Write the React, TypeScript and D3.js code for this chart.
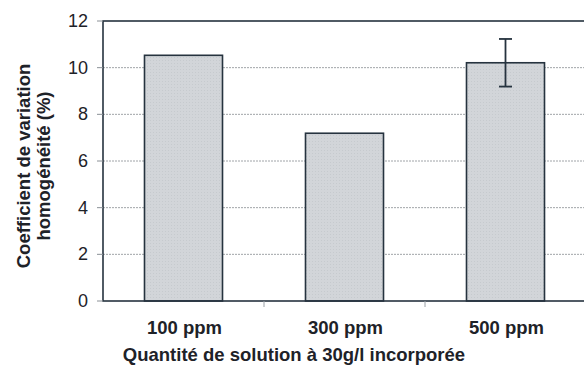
import React from "react";
import * as d3 from "d3";

const categories = ["100 ppm", "300 ppm", "500 ppm"];
const values = [10.53, 7.19, 10.21];
const errors = [0, 0, 1.02];
const yTicks = [0, 2, 4, 6, 8, 10, 12];
const yTitle = ["Coefficient de variation", "homogénéité (%)"];
const xTitle = "Quantité de solution à 30g/l incorporée";

const W = 584;
const H = 372;
const left = 103;
const top = 21;
const bottom = 301;
const right = 586;

export default function App() {
  const x = d3
    .scaleBand<string>()
    .domain(categories)
    .range([left, right])
    .paddingInner(0.5155)
    .paddingOuter(0.5155 / 2);
  const y = d3.scaleLinear().domain([0, 12]).range([bottom, top]);
  const step = x.step();
  const textColor = "#1e2228";
  const lineColor = "#26333f";
  const font = "'Liberation Sans', Arial, sans-serif";

  return (
    <svg
      width={W}
      height={H}
      style={{ position: "fixed", left: 0, top: 0, background: "#fff" }}
      fontFamily={font}
    >
      <defs>
        <pattern id="hatch" width="3" height="3" patternUnits="userSpaceOnUse">
          <rect width="3" height="3" fill="#d2d5d9" />
          <rect width="1" height="1" fill="#c6cace" />
        </pattern>
      </defs>
      <rect x={0} y={0} width={W} height={H} fill="#fff" />
      {/* gridlines */}
      {yTicks
        .filter((t) => t > 0 && t < 12)
        .map((t) => (
          <line
            key={"g" + t}
            x1={left}
            x2={right}
            y1={y(t)}
            y2={y(t)}
            stroke="#a0a4a8"
            strokeWidth={1}
            strokeDasharray="2,1"
          />
        ))}
      {/* bars */}
      {categories.map((c, i) => (
        <rect
          key={c}
          x={x(c)!}
          y={y(values[i])}
          width={x.bandwidth()}
          height={y(0) - y(values[i])}
          fill="url(#hatch)"
          stroke={lineColor}
          strokeWidth={1.6}
        />
      ))}
      {/* error bars */}
      {categories.map((c, i) =>
        errors[i] > 0 ? (
          <g key={"e" + c} stroke={lineColor} strokeWidth={1.8}>
            <line
              x1={x(c)! + x.bandwidth() / 2}
              x2={x(c)! + x.bandwidth() / 2}
              y1={y(values[i] + errors[i])}
              y2={y(values[i] - errors[i])}
            />
            <line
              x1={x(c)! + x.bandwidth() / 2 - 6.5}
              x2={x(c)! + x.bandwidth() / 2 + 6.5}
              y1={y(values[i] + errors[i])}
              y2={y(values[i] + errors[i])}
            />
            <line
              x1={x(c)! + x.bandwidth() / 2 - 6.5}
              x2={x(c)! + x.bandwidth() / 2 + 6.5}
              y1={y(values[i] - errors[i])}
              y2={y(values[i] - errors[i])}
            />
          </g>
        ) : null
      )}
      {/* frame */}
      <rect
        x={left}
        y={top}
        width={right - left}
        height={bottom - top}
        fill="none"
        stroke={lineColor}
        strokeWidth={1.6}
      />
      {/* y ticks */}
      {yTicks.map((t) => (
        <g key={"t" + t}>
          <line x1={left - 6} x2={left} y1={y(t)} y2={y(t)} stroke="#8a9096" strokeWidth={1} />
          <text
            x={88}
            y={y(t)}
            textAnchor="end"
            dominantBaseline="central"
            fontSize={18}
            fill={textColor}
          >
            {t}
          </text>
        </g>
      ))}
      {/* x ticks at band boundaries */}
      {categories.slice(1).map((c) => (
        <line
          key={"xt" + c}
          x1={x(c)! - (step - x.bandwidth()) / 2}
          x2={x(c)! - (step - x.bandwidth()) / 2}
          y1={bottom}
          y2={bottom + 6}
          stroke="#9aa0a6"
          strokeWidth={1}
        />
      ))}
      {/* x labels */}
      {categories.map((c) => (
        <text
          key={"xl" + c}
          x={x(c)! + x.bandwidth() / 2 + 1}
          y={334}
          textAnchor="middle"
          fontSize={18.5}
          fontWeight="bold"
          fill={textColor}
        >
          {c}
        </text>
      ))}
      <text
        x={294}
        y={361}
        textAnchor="middle"
        fontSize={18.5}
        fontWeight="bold"
        fill={textColor}
      >
        {xTitle}
      </text>
      {/* y title */}
      <g transform="translate(0,166) rotate(-90)">
        <text x={0} y={30} textAnchor="middle" fontSize={18.5} fontWeight="bold" fill={textColor}>
          {yTitle[0]}
        </text>
        <text x={0} y={50} textAnchor="middle" fontSize={18.5} fontWeight="bold" fill={textColor}>
          {yTitle[1]}
        </text>
      </g>
    </svg>
  );
}
